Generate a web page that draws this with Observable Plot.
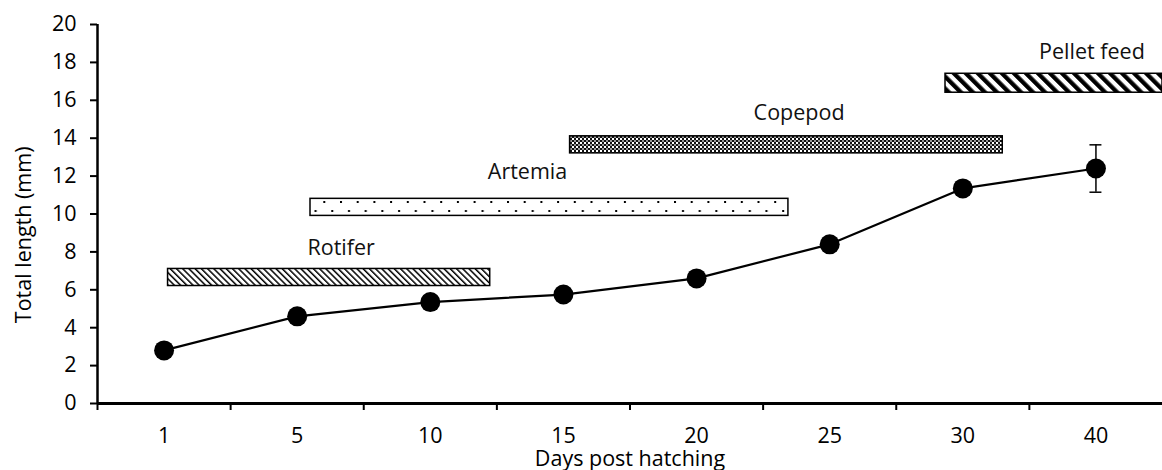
<!DOCTYPE html>
<html><head><meta charset="utf-8">
<script src="https://cdn.jsdelivr.net/npm/d3@7"></script>
<script src="https://cdn.jsdelivr.net/npm/@observablehq/plot@0.6"></script>
<style>body{margin:0;background:#fff} svg{display:block}</style>
</head><body><div id="chart"></div>
<script>
// Data
const days = ["1","5","10","15","20","25","30","40"];
const totalLength = [2.8, 4.6, 5.35, 5.75, 6.6, 8.4, 11.35, 12.4];
const errorLength = [0, 0, 0, 0, 0, 0, 0, 1.25];
const foodNames = ["Rotifer", "Artemia", "Copepod", "Pellet feed"];
// feeding periods, in day-category index units (0 = day 1, 7 = day 40)
const foodStart = [0.03, 1.1, 3.05, 5.87];
const foodEnd = [2.45, 4.69, 6.3, 7.5];
const foodLow = [6.2, 9.9, 13.2, 16.4];
const foodHigh = [7.1, 10.8, 14.1, 17.4];
const foodLabelX = [1.33, 2.73, 4.77, 6.97];
const foodLabelY = [8.2, 12.2, 15.3, 18.55];
const yTicks = d3.range(0, 21, 2);

const points = days.map((d, i) => ({i, day: d, v: totalLength[i], e: errorLength[i]}));
const foods = foodNames.map((n, i) => ({name: n, x1: foodStart[i], x2: foodEnd[i], y1: foodLow[i], y2: foodHigh[i], lx: foodLabelX[i], ly: foodLabelY[i], k: i}));
const errs = points.filter(p => p.e > 0);
const boundaries = d3.range(days.length).map(i => i - 0.5);
const centers = d3.range(days.length);

const font = "'Open Sans', Lato, sans-serif";
const fs = 21.5;

const plot = Plot.plot({
  width: 1162,
  height: 470,
  marginLeft: 97,
  marginRight: 0,
  marginTop: 24,
  marginBottom: 67,
  style: {fontFamily: font, fontSize: fs + "px", color: "#000", background: "#fff", overflow: "visible"},
  x: {domain: [-0.5, days.length - 0.5], axis: null},
  y: {domain: [0, 20], axis: null},
  marks: [
    // food bars
    ...foods.map(f => Plot.rect([f], {x1: "x1", x2: "x2", y1: "y1", y2: "y2", fill: `url(#pat${f.k})`, stroke: "#000", strokeWidth: 1.5})),
    Plot.text(foods, {x: "lx", y: "ly", text: "name", fontSize: fs, fill: "#111"}),
    // axes
    Plot.axisY({ticks: yTicks, tickSize: 7, tickPadding: 14, strokeWidth: 2, label: null, fontSize: fs}),
    Plot.ruleX([-0.5], {y1: 0, y2: 20, strokeWidth: 2.5}),
    Plot.ruleY([0], {strokeWidth: 3}),
    Plot.axisX({ticks: boundaries, tickSize: 7, tickFormat: () => "", strokeWidth: 2, label: null}),
    Plot.axisX({ticks: centers, tickSize: 0, tickPadding: 24, tickFormat: i => days[i], label: null, fontSize: fs}),
    Plot.text(["Days post hatching"], {frameAnchor: "bottom", dy: 62.5, fontSize: fs}),
    Plot.text(["Total length (mm)"], {frameAnchor: "left", textAnchor: "middle", y: 8.9, dx: -73, rotate: -90, fontSize: fs}),
    // error bar
    Plot.ruleX(errs, {x: "i", y1: d => d.v - d.e, y2: d => d.v + d.e, strokeWidth: 1.5}),
    Plot.ruleY(errs, {y: d => d.v + d.e, x1: d => d.i - 0.045, x2: d => d.i + 0.045, strokeWidth: 1.5}),
    Plot.ruleY(errs, {y: d => d.v - d.e, x1: d => d.i - 0.045, x2: d => d.i + 0.045, strokeWidth: 1.5}),
    // growth line
    Plot.line(points, {x: "i", y: "v", stroke: "#000", strokeWidth: 2.2}),
    Plot.dot(points, {x: "i", y: "v", r: 10, fill: "#000", stroke: "none"})
  ]
});

// pattern definitions
const svg = d3.select(plot);
const defs = svg.insert("defs", ":first-child");
const ys = plot.scale("y");
// Rotifer: thin diagonal hatch
{
  const p = defs.append("pattern").attr("id", "pat0").attr("patternUnits", "userSpaceOnUse")
    .attr("width", 4.4).attr("height", 10).attr("patternTransform", "rotate(-45)");
  p.append("rect").attr("width", 4.4).attr("height", 10).attr("fill", "#fff");
  p.append("rect").attr("width", 1.5).attr("height", 10).attr("fill", "#000");
}
// Artemia: staggered dots
{
  const top = ys.apply(foodHigh[1]);
  const p = defs.append("pattern").attr("id", "pat1").attr("patternUnits", "userSpaceOnUse")
    .attr("width", 16.7).attr("height", 18).attr("y", Math.round(top) + 3).attr("x", 6);
  p.append("rect").attr("width", 16.7).attr("height", 18).attr("fill", "#fff");
  p.append("rect").attr("x", 0).attr("y", 0).attr("width", 2).attr("height", 2).attr("fill", "#000");
  p.append("rect").attr("x", 8).attr("y", 9).attr("width", 2).attr("height", 2).attr("fill", "#000");
}
// Copepod: fine checkerboard
{
  const p = defs.append("pattern").attr("id", "pat2").attr("patternUnits", "userSpaceOnUse")
    .attr("width", 4).attr("height", 4);
  p.append("rect").attr("width", 4).attr("height", 4).attr("fill", "#fff");
  p.append("rect").attr("width", 2).attr("height", 2).attr("fill", "#111");
  p.append("rect").attr("x", 2).attr("y", 2).attr("width", 2).attr("height", 2).attr("fill", "#111");
  p.append("rect").attr("x", 2).attr("y", 0).attr("width", 2).attr("height", 2).attr("fill", "#999");
}
// Pellet feed: thick diagonal stripes
{
  const p = defs.append("pattern").attr("id", "pat3").attr("patternUnits", "userSpaceOnUse")
    .attr("width", 8.5).attr("height", 10).attr("patternTransform", "rotate(-45)");
  p.append("rect").attr("width", 8.5).attr("height", 10).attr("fill", "#fff");
  p.append("rect").attr("width", 4.3).attr("height", 10).attr("fill", "#000");
}

document.getElementById("chart").appendChild(plot);
</script>
</body></html>
